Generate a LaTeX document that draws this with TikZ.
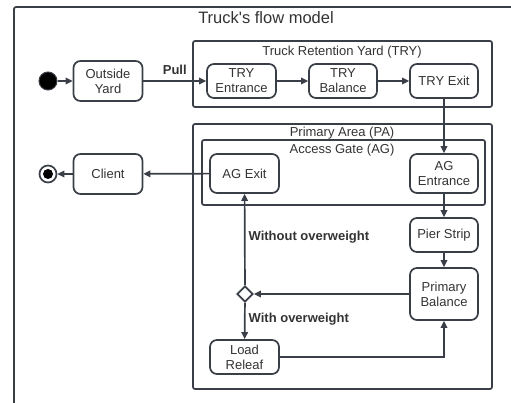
\documentclass[tikz,border=0pt]{standalone}
\usepackage{fontspec}
\setmainfont{Liberation Sans}
\usetikzlibrary{arrows.meta,shapes.geometric}
\definecolor{ln}{HTML}{3A3F47}
\definecolor{tx}{HTML}{333333}
\tikzset{
  state/.style={draw=ln,line width=1.7pt,rounded corners=7pt,align=center,text=tx,font=\fontsize{13}{15}\selectfont,inner sep=0pt},
  area/.style={draw=ln,line width=1.7pt,rounded corners=2pt},
  lbl/.style={text=tx,font=\fontsize{13}{15}\selectfont,inner sep=0pt},
  blbl/.style={text=tx,font=\fontsize{13}{15}\selectfont\bfseries,inner sep=0pt},
  flow/.style={draw=ln,line width=1.7pt,-{Triangle[length=7pt,width=6.5pt]}},
}
\begin{document}
\begin{tikzpicture}[x=1pt,y=-1pt]
\useasboundingbox (0,0) rectangle (511,403);
% outer frame
\draw[ln,line width=1.7pt,rounded corners=2pt] (14,420) -- (14,7) -- (530,7);
\node[lbl,font=\fontsize{16.5}{19}\selectfont] (title) at (266,18) {Truck\textquotesingle s flow model};
% containers
\draw[area] (193,41) rectangle (492,107);
\node[lbl] (tryl) at (342,52) {Truck Retention Yard (TRY)};
\draw[area] (193,124) rectangle (492,389);
\node[lbl] (pal) at (342,133) {Primary Area (PA)};
\draw[area] (202,140) rectangle (485,205);
\node[lbl] (agl) at (342,150) {Access Gate (AG)};
% states
\node[state,minimum width=69pt,minimum height=40pt] (oy) at (108,81) {Outside\\Yard};
\node[state,minimum width=69pt,minimum height=34pt] (tre) at (241.5,81) {TRY\\Entrance};
\node[state,minimum width=68pt,minimum height=34pt] (trb) at (343,81) {TRY\\Balance};
\node[state,minimum width=68pt,minimum height=34pt] (trx) at (444,81) {TRY Exit};
\node[state,minimum width=69pt,minimum height=40pt] (cl) at (108,174) {Client};
\node[state,minimum width=69pt,minimum height=39pt] (agx) at (244.5,173.5) {AG Exit};
\node[state,minimum width=68pt,minimum height=39pt] (age) at (444,173.5) {AG\\Entrance};
\node[state,minimum width=68pt,minimum height=34pt] (ps) at (444,235) {Pier Strip};
\node[state,minimum width=68pt,minimum height=52pt] (pb) at (444,294) {Primary\\Balance};
\node[state,minimum width=69pt,minimum height=34pt] (lr) at (244.5,357) {Load\\Releaf};
\node[diamond,draw=ln,line width=1.7pt,fill=white,minimum width=16pt,minimum height=16pt,inner sep=0pt] (dec) at (245,294) {};
% start / end
\node[circle,fill=black,draw=ln,line width=1pt,minimum size=18pt,inner sep=0pt] (start) at (48,81) {};
\node[circle,draw=ln,line width=1.7pt,minimum size=17pt,inner sep=0pt] (end) at (48,174) {};
\node[circle,fill=black,minimum size=10pt,inner sep=0pt] (endin) at (48,174) {};
% flows
\draw[flow] (start) -- (oy);
\draw[flow] (oy) -- (tre) node[blbl,pos=0.5,above=6pt] (pull) {Pull};
\draw[flow] (tre) -- (trb);
\draw[flow] (trb) -- (trx);
\draw[flow] (trx) -- (age);
\draw[flow] (age) -- (ps);
\draw[flow] (ps) -- (pb);
\draw[flow] (pb) -- (dec);
\draw[flow] (dec) -- (agx) node[blbl,anchor=west,pos=0.53,xshift=3pt] (wo) {Without overweight};
\draw[flow] (dec) -- (lr) node[blbl,anchor=west,pos=0.45,xshift=3pt] (wi) {With overweight};
\draw[flow] (lr.east) -- (lr.east -| pb.south) -- (pb.south);
\draw[flow] (agx) -- (cl);
\draw[flow] (cl) -- (end);
\end{tikzpicture}
\end{document}
